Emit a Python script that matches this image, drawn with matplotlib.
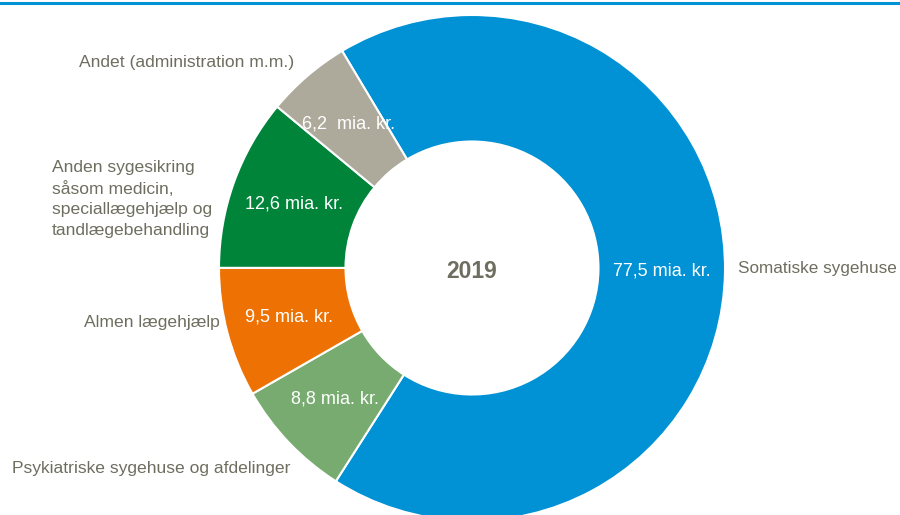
import matplotlib
matplotlib.use("Agg")
import matplotlib.pyplot as plt
from matplotlib import font_manager
import numpy as np

# data (mia. kr., 2019)
kategorier = ['Somatiske sygehuse', 'Psykiatriske sygehuse og afdelinger', 'Almen lægehjælp',
              'Anden sygesikring\nsåsom medicin,\nspeciallægehjælp og\ntandlægebehandling',
              'Andet (administration m.m.)']
vaerdier = [77.5, 8.8, 9.5, 12.6, 6.2]
etiketter = ['77,5 mia. kr.', '8,8 mia. kr.', '9,5 mia. kr.', '12,6 mia. kr.', '6,2  mia. kr.']
farver = ['#0092D5', '#78AB70', '#EE7203', '#00843A', '#ADAA9B']
aar = '2019'

names = {f.name for f in font_manager.fontManager.ttflist}
fam = 'Liberation Sans Narrow' if 'Liberation Sans Narrow' in names else 'Liberation Sans'
plt.rcParams['font.family'] = [fam, 'DejaVu Sans']
grey = '#6E6E60'

fig = plt.figure(figsize=(9, 5.15), dpi=100)
ax = fig.add_axes([0, 0, 1, 1])

cx, cy, R = 472, 515 - 268, 253
wedges, txt = ax.pie(vaerdier, colors=farver, startangle=120.9, counterclock=False,
                     center=(cx, cy), radius=R,
                     wedgeprops=dict(width=R * 0.5, edgecolor='white', linewidth=1.5))
ax.set_xlim(0, 900)
ax.set_ylim(0, 515)
ax.set_aspect('equal')
ax.axis('off')

for w, lab in zip(wedges, etiketter):
    ang = np.deg2rad((w.theta1 + w.theta2) / 2)
    ax.text(cx + 0.75 * R * np.cos(ang), cy + 0.75 * R * np.sin(ang), lab,
            color='white', fontsize=13, ha='center', va='center')

ax.text(cx, cy - 3, aar, color=grey, fontsize=16.5, fontweight='bold', ha='center', va='center')

# outer labels
fs = 12.6
ax.text(738, 515 - 268, kategorier[0], color=grey, fontsize=12.3, ha='left', va='center')
ax.text(290, 515 - 468, kategorier[1], color=grey, fontsize=fs, ha='right', va='center')
ax.text(220, 515 - 322, kategorier[2], color=grey, fontsize=fs, ha='right', va='center')
ax.text(52, 515 - 199, kategorier[3], color=grey, fontsize=fs, ha='left', va='center',
        linespacing=1.45)
ax.text(294, 515 - 63, kategorier[4], color=grey, fontsize=fs, ha='right', va='center')

# top rule
fig.add_artist(plt.Line2D([0, 1], [1 - 2.5 / 515, 1 - 2.5 / 515], color='#0092D5',
                          linewidth=2.2, transform=fig.transFigure))

fig.savefig('out.png', dpi=100)
